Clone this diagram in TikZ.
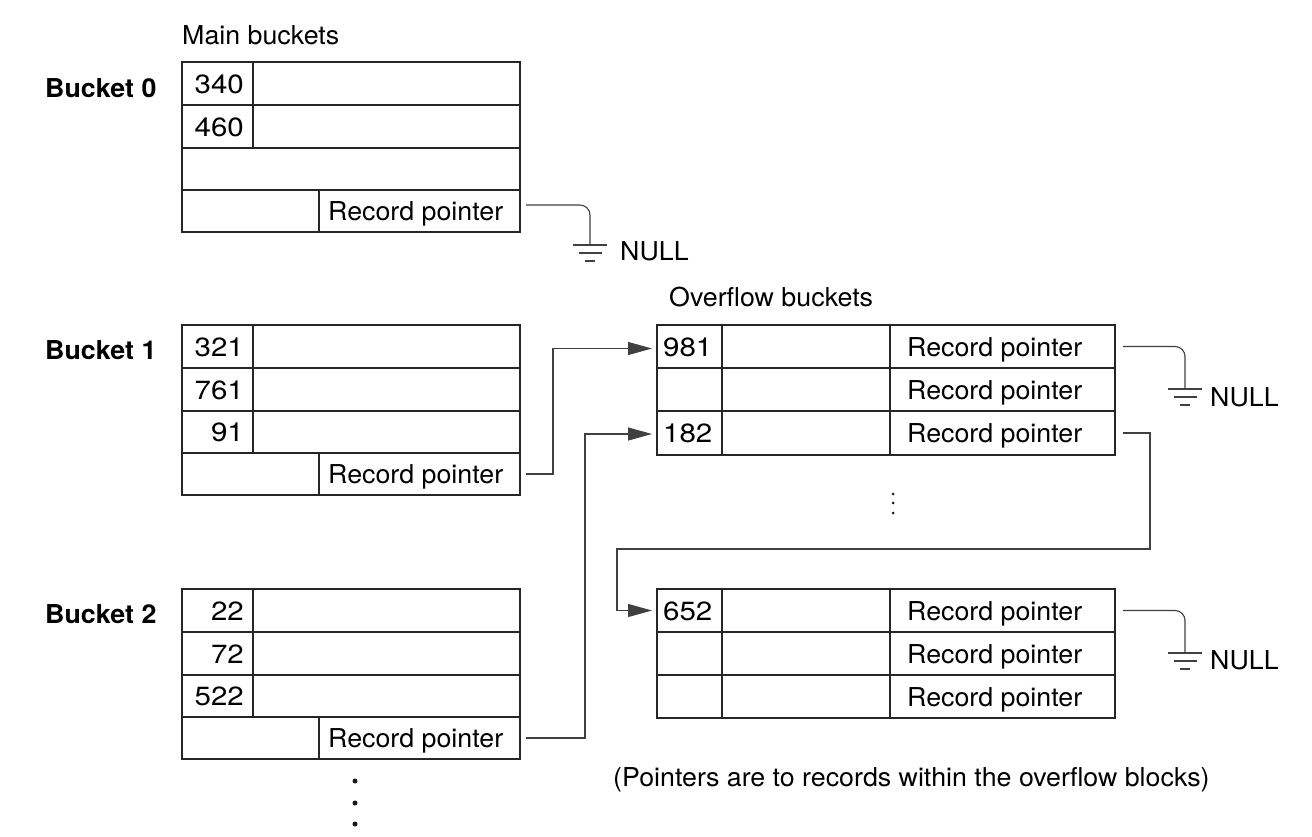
\documentclass[tikz,border=0pt]{standalone}
\usepackage{fontspec}
\setmainfont[FakeStretch=1.03]{TeX Gyre Heros}
\newfontfamily\numfont[FakeStretch=1.12]{TeX Gyre Heros}
\usetikzlibrary{arrows.meta,fit,calc}
\newcommand\mkcell[5]{\node[cellbox,fit={(#2,#3)(#4,#5)}] (#1) {};}
\tikzset{
  cellbox/.style={draw=black!85,line width=1.2pt,inner sep=0pt,outer sep=0pt},
  txt/.style={inner sep=0pt,font=\fontsize{26}{31}\selectfont},
  numtxt/.style={inner sep=0pt,font=\numfont\fontsize{26.3}{31}\selectfont},
  btxt/.style={inner sep=0pt,font=\fontsize{26}{31}\selectfont\bfseries},
  conn/.style={draw=black!75,line width=1.1pt},
  arr/.style={-{Triangle[length=24pt,width=13pt]}},
  gnd/.style={draw=black!75,line width=1.1pt},
  bigdot/.style={circle,fill=black!90,inner sep=0pt,minimum size=5pt},
  smalldot/.style={circle,fill=black!90,inner sep=0pt,minimum size=3pt}
}
\newcommand\ground[1]{%
  \draw[gnd] ($(#1)+(-17,0)$) -- ($(#1)+(17,0)$);
  \draw[gnd] ($(#1)+(-11.5,8)$) -- ($(#1)+(11.5,8)$);
  \draw[gnd] ($(#1)+(-5,16)$) -- ($(#1)+(5,16)$);}
\begin{document}
\begin{tikzpicture}[x=1pt,y=-1pt]
\useasboundingbox (0,0) rectangle (1312,836);
% ---------- Bucket 0
\mkcell{b0k1}{182}{62}{253}{105}
\mkcell{b0v1}{253}{62}{520}{105}
\mkcell{b0k2}{182}{105}{253}{148}
\mkcell{b0v2}{253}{105}{520}{148}
\mkcell{b0r3}{182}{148}{520}{190}
\mkcell{b0l4}{182}{190}{319}{232}
\mkcell{b0p}{319}{190}{520}{232}
% ---------- Bucket 1
\mkcell{b1k1}{182}{325}{253}{368}
\mkcell{b1v1}{253}{325}{520}{368}
\mkcell{b1k2}{182}{368}{253}{411}
\mkcell{b1v2}{253}{368}{520}{411}
\mkcell{b1k3}{182}{411}{253}{453}
\mkcell{b1v3}{253}{411}{520}{453}
\mkcell{b1l4}{182}{453}{319}{495}
\mkcell{b1p}{319}{453}{520}{495}
% ---------- Bucket 2
\mkcell{b2k1}{182}{589}{253}{632}
\mkcell{b2v1}{253}{589}{520}{632}
\mkcell{b2k2}{182}{632}{253}{675}
\mkcell{b2v2}{253}{632}{520}{675}
\mkcell{b2k3}{182}{675}{253}{717}
\mkcell{b2v3}{253}{675}{520}{717}
\mkcell{b2l4}{182}{717}{319}{759}
\mkcell{b2p}{319}{717}{520}{759}
% ---------- Overflow block 1
\mkcell{o1k1}{657}{325}{722}{368}
\mkcell{o1m1}{722}{325}{890}{368}
\mkcell{o1p1}{890}{325}{1115}{368}
\mkcell{o1k2}{657}{368}{722}{411}
\mkcell{o1m2}{722}{368}{890}{411}
\mkcell{o1p2}{890}{368}{1115}{411}
\mkcell{o1k3}{657}{411}{722}{455}
\mkcell{o1m3}{722}{411}{890}{455}
\mkcell{o1p3}{890}{411}{1115}{455}
% ---------- Overflow block 2
\mkcell{o2k1}{657}{589}{722}{632}
\mkcell{o2m1}{722}{589}{890}{632}
\mkcell{o2p1}{890}{589}{1115}{632}
\mkcell{o2k2}{657}{632}{722}{675}
\mkcell{o2m2}{722}{632}{890}{675}
\mkcell{o2p2}{890}{632}{1115}{675}
\mkcell{o2k3}{657}{675}{722}{718}
\mkcell{o2m3}{722}{675}{890}{718}
\mkcell{o2p3}{890}{675}{1115}{718}
% ---------- titles
\node[txt,anchor=base west] (tmain) at (182,44) {Main buckets};
\node[txt,anchor=base west] (tover) at (669,306) {Overflow buckets};
\node[btxt,anchor=base west] (lb0) at (45,97) {Bucket 0};
\node[btxt,anchor=base west] (lb1) at (45,359) {Bucket 1};
\node[btxt,anchor=base west] (lb2) at (45,623) {Bucket 2};
\node[txt,anchor=base west] (tnote) at (613,786) {(Pointers are to records within the overflow blocks)};
% ---------- keys
\node[numtxt,anchor=base east] (k340) at (244,93) {340};
\node[numtxt,anchor=base east] (k460) at (244,136) {460};
\node[numtxt,anchor=base east] (k321) at (244,356) {321};
\node[numtxt,anchor=base east] (k761) at (244,399) {761};
\node[numtxt,anchor=base east] (k91) at (244,441) {91};
\node[numtxt,anchor=base east] (k22) at (244,620) {22};
\node[numtxt,anchor=base east] (k72) at (244,663) {72};
\node[numtxt,anchor=base east] (k522) at (244,705) {522};
\node[numtxt,anchor=base west] (k981) at (663,356) {981};
\node[numtxt,anchor=base west] (k182) at (663,442) {182};
\node[numtxt,anchor=base west] (k652) at (663,620) {652};
% ---------- record pointer labels
\node[txt,anchor=base west] (r0) at (328,220) {Record pointer};
\node[txt,anchor=base west] (r1) at (328,483) {Record pointer};
\node[txt,anchor=base west] (r2) at (328,747) {Record pointer};
\node[txt,anchor=base west] (ro11) at (907,356) {Record pointer};
\node[txt,anchor=base west] (ro12) at (907,399) {Record pointer};
\node[txt,anchor=base west] (ro13) at (907,442) {Record pointer};
\node[txt,anchor=base west] (ro21) at (907,620) {Record pointer};
\node[txt,anchor=base west] (ro22) at (907,663) {Record pointer};
\node[txt,anchor=base west] (ro23) at (907,706) {Record pointer};
% ---------- NULL labels and grounds
\coordinate (g0) at (590,245);
\coordinate (g1) at (1185,389);
\coordinate (g2) at (1185,653);
\node[txt,anchor=base west] (n0) at (620,260) {NULL};
\node[txt,anchor=base west] (n1) at (1210,406) {NULL};
\node[txt,anchor=base west] (n2) at (1210,669) {NULL};
\ground{g0}
\ground{g1}
\ground{g2}
\draw[conn,rounded corners=10pt] ($(b0p.east)+(6,-6)$) -| (g0);
\draw[conn,rounded corners=10pt] ($(o1p1.east)+(8,0)$) -| (g1);
\draw[conn,rounded corners=10pt] ($(o2p1.east)+(8,0)$) -| (g2);
% ---------- pointers
\draw[conn,arr] ($(b1p.east)+(6,0)$) -| ($(o1k1.west)+(-104,2)$) -- ($(o1k1.west)+(-5,2)$);
\draw[conn,arr] ($(b2p.east)+(6,0)$) -| ($(o1k3.west)+(-72,1)$) -- ($(o1k3.west)+(-5,1)$);
\coordinate (bend1) at (1150,549);
\draw[conn,arr] ($(o1p3.east)+(8,0)$) -| (bend1) -| ($(o2k1.west)+(-40,0)$) -- ($(o2k1.west)+(-5,0)$);
% ---------- ellipses
\node[smalldot] (d1) at (893,494) {};
\node[smalldot] (d2) at (893,503) {};
\node[smalldot] (d3) at (893,513) {};
\node[bigdot] (e1) at (355,781) {};
\node[bigdot] (e2) at (355,803) {};
\node[bigdot] (e3) at (355,824) {};
\end{tikzpicture}
\end{document}
